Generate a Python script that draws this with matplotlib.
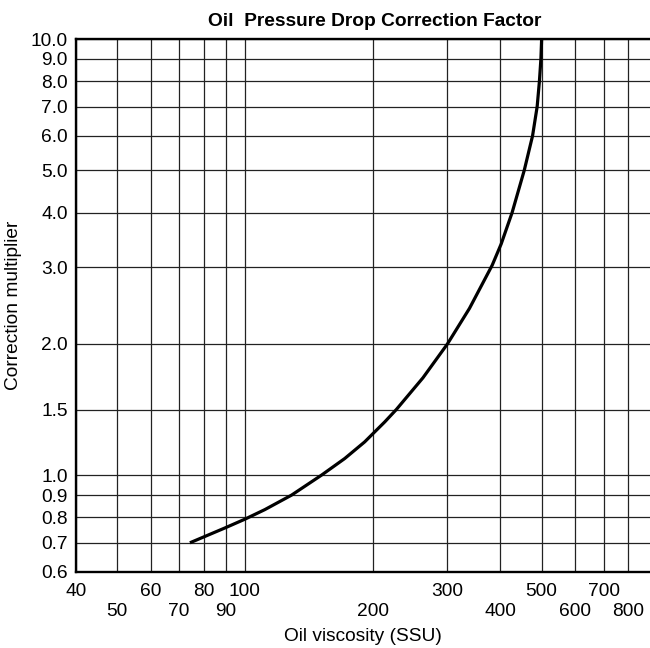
import matplotlib as mpl
mpl.use('Agg')
import matplotlib.pyplot as plt

# curve (viscosity SSU, correction multiplier)
viscosity = [74.2, 89.7, 100, 111.4, 128.7, 151.4, 171.8, 191.4, 213.5, 227.4, 262.6,
             300, 338, 382.4, 401.5, 426, 455, 476, 488, 494, 498, 500]
multiplier = [0.70, 0.757, 0.793, 0.834, 0.900, 1.0, 1.092, 1.192, 1.325, 1.415, 1.672,
              2.0, 2.412, 3.03, 3.39, 4.0, 5.0, 6.0, 7.0, 8.0, 9.0, 10.0]

# x labels are staggered on two rows
x_upper = [40, 60, 80, 100, 300, 500, 700]
x_lower = [50, 70, 90, 200, 400, 600, 800]

# the source chart puts its "1.5" line half way between 1.0 and 2.0 (at ~1.414)
y_ticks = [0.6, 0.7, 0.8, 0.9, 1.0, 1.414, 2.0, 3.0, 4.0, 5.0, 6.0, 7.0, 8.0, 9.0, 10.0]
y_labels = ["0.6", "0.7", "0.8", "0.9", "1.0", "1.5", "2.0", "3.0", "4.0",
            "5.0", "6.0", "7.0", "8.0", "9.0", "10.0"]

plt.rcParams['font.family'] = ['Liberation Sans', 'DejaVu Sans']

fig = plt.figure(figsize=(6.5, 6.48), dpi=100)
ax = fig.add_axes([76/650, 1-572/648, 574/650, 533/648])

ax.plot(viscosity, multiplier, color='black', lw=2.3, solid_capstyle='butt',
        solid_joinstyle='round', zorder=3)

ax.set_xscale('log')
ax.set_yscale('log')
ax.set_xlim(40, 900)
ax.set_ylim(0.6, 10)

ax.set_xticks(x_upper, [str(v) for v in x_upper])
ax.set_xticks(x_lower, [str(v) for v in x_lower], minor=True)
ax.set_yticks(y_ticks, y_labels)
ax.set_yticks([], minor=True)

ax.tick_params(axis='both', which='both', length=0, labelsize=13.8)
ax.tick_params(axis='x', which='major', pad=8)
ax.tick_params(axis='x', which='minor', pad=22)
ax.tick_params(axis='y', pad=6)

ax.grid(True, which='both', color='#222222', lw=0.9)
ax.set_axisbelow(True)

for s in ['left', 'top', 'bottom']:
    ax.spines[s].set_linewidth(1.7)
ax.spines['right'].set_visible(False)

ax.set_xlabel("Oil viscosity (SSU)", fontsize=13.8, labelpad=6)
ax.set_ylabel("Correction multiplier", fontsize=13.8, labelpad=6)
ax.set_title("Oil  Pressure Drop Correction Factor", fontsize=13.8,
             fontweight='bold', pad=9, x=0.52)

fig.savefig("out.png", dpi=100)
